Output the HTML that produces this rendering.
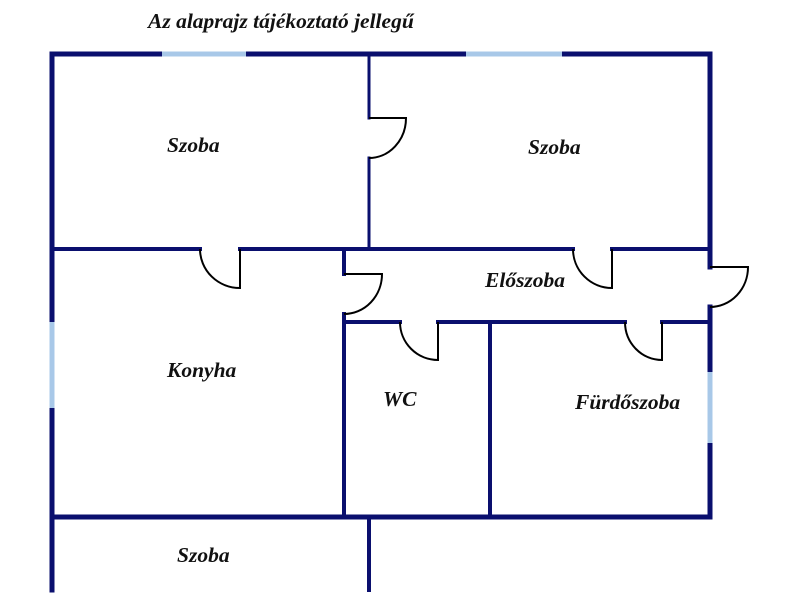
<!DOCTYPE html>
<html><head><meta charset="utf-8"><style>
html,body{margin:0;padding:0;background:#fff;}
svg{display:block}
text{font-family:"Liberation Serif",serif;font-weight:bold;font-style:italic;fill:#111;}
</style></head><body>
<svg width="800" height="600" viewBox="0 0 800 600">
<text x="148" y="28" font-size="21.5">Az alaprajz tájékoztató jellegű</text>
<g stroke="#0a0f6e" stroke-linecap="square" fill="none">
 <line x1="52" y1="54" x2="710" y2="54" stroke-width="5"/>
 <line x1="52" y1="54" x2="52" y2="590" stroke-width="5"/>
 <line x1="710" y1="54" x2="710" y2="267" stroke-width="5"/>
 <line x1="710" y1="307" x2="710" y2="517" stroke-width="5"/>
 <line x1="52" y1="517" x2="710" y2="517" stroke-width="5"/>
 <line x1="369" y1="517" x2="369" y2="590" stroke-width="4"/>
 <line x1="369" y1="54" x2="369" y2="118" stroke-width="3"/>
 <line x1="369" y1="158" x2="369" y2="249" stroke-width="3"/>
 <line x1="52" y1="249" x2="200" y2="249" stroke-width="4"/>
 <line x1="240" y1="249" x2="573" y2="249" stroke-width="4"/>
 <line x1="612" y1="249" x2="710" y2="249" stroke-width="4"/>
 <line x1="344" y1="249" x2="344" y2="274" stroke-width="4"/>
 <line x1="344" y1="314" x2="344" y2="517" stroke-width="4"/>
 <line x1="344" y1="322" x2="400" y2="322" stroke-width="4"/>
 <line x1="438" y1="322" x2="625" y2="322" stroke-width="4"/>
 <line x1="662" y1="322" x2="710" y2="322" stroke-width="4"/>
 <line x1="490" y1="322" x2="490" y2="517" stroke-width="4"/>
</g>
<g stroke="#a8c8e8" stroke-width="5">
 <line x1="162" y1="54" x2="246" y2="54"/>
 <line x1="466" y1="54" x2="562" y2="54"/>
 <line x1="52" y1="322" x2="52" y2="408"/>
 <line x1="710" y1="372" x2="710" y2="443"/>
</g>
<g stroke="#000" stroke-width="2" fill="none">
 <path d="M369 118 H406 A37 40 0 0 1 369 158"/>
 <path d="M240 249 V288 A40 39 0 0 1 200 249"/>
 <path d="M612 249 V288 A39 39 0 0 1 573 249"/>
 <path d="M344 274 H382 A38 40 0 0 1 344 314"/>
 <path d="M438 322 V360 A38 38 0 0 1 400 322"/>
 <path d="M662 322 V360 A37 38 0 0 1 625 322"/>
 <path d="M710 267 H748 A38 40 0 0 1 710 307"/>
</g>
<g font-size="21.5">
 <text x="167" y="152">Szoba</text>
 <text x="528" y="154">Szoba</text>
 <text x="485" y="287">Előszoba</text>
 <text x="167" y="377">Konyha</text>
 <text x="383" y="406">WC</text>
 <text x="575" y="409">Fürdőszoba</text>
 <text x="177" y="562">Szoba</text>
</g>
</svg>
</body></html>
